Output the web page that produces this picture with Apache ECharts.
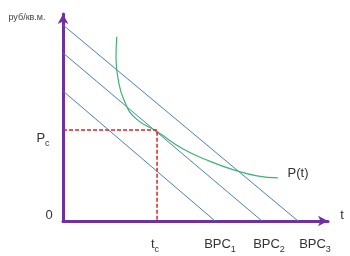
<!DOCTYPE html>
<html><head><meta charset="utf-8">
<script src="https://cdn.jsdelivr.net/npm/echarts@6/dist/echarts.min.js"></script>
<style>html,body{margin:0;padding:0;background:#fff}#c{width:350px;height:256px}</style>
</head><body><div id="c"></div>
<script>
// Budget lines (BPC): [P-intercept, t-intercept]
const bpcNames = ['BPC1', 'BPC2', 'BPC3'];
const bpcIntercepts = [[6.28, 5.74], [8.12, 7.51], [9.47, 8.87]];
// Price curve P(t)
const ptX = [2.03, 2.00, 2.08, 2.30, 2.72, 3.55, 4.50, 5.55, 6.57, 7.32, 8.11];
const ptY = [8.90, 7.90, 6.85, 5.85, 4.98, 4.32, 3.50, 2.88, 2.42, 2.18, 2.08];
// Equilibrium
const tc = 3.55;
const Pc = 4.40;
const axisMax = 10;

const purple = '#7030A0';
const blue = '#4A7EBB';
const green = '#3DB36F';
const font = 'Liberation Sans, Arial, sans-serif';

const series = [];
bpcIntercepts.forEach((b, i) => {
  series.push({
    name: bpcNames[i], type: 'line', symbol: 'none', silent: true,
    data: [[0, b[0]], [b[1], 0]],
    lineStyle: { color: blue, width: 1 }
  });
});
series.push({
  name: 'P(t)', type: 'line', symbol: 'none', smooth: 0.5, silent: true,
  data: ptX.map((x, i) => [x, ptY[i]]),
  lineStyle: { color: green, width: 1.2 }
});
series.push({
  name: 'eq', type: 'line', symbol: 'none', silent: true,
  data: [[0, Pc], [tc, Pc], [tc, 0]],
  lineStyle: { color: '#E02020', width: 1.5, type: [4, 2] }, z: 3
});

const sub = (a, b, size) => ({
  type: 'text',
  style: {
    text: '{a|' + a + '}{b|' + b + '}',
    rich: {
      a: { fontSize: size, fontFamily: font, fill: '#333', lineHeight: 16, verticalAlign: 'bottom' },
      b: { fontSize: Math.round(size * 0.72), fontFamily: font, fill: '#333', lineHeight: 16, verticalAlign: 'bottom', padding: [0, 0, -3, 0] }
    },
    align: 'center', verticalAlign: 'middle'
  }
});

const chart = echarts.init(document.getElementById('c'), null, { renderer: 'canvas' });
chart.setOption({
  animation: false,
  grid: { left: 63, right: 22, top: 14, bottom: 35 },
  xAxis: {
    type: 'value', min: 0, max: axisMax,
    axisLine: { show: true, lineStyle: { color: purple, width: 3 }, symbol: ['none', 'arrow'], symbolSize: [8, 10] },
    axisTick: { show: false }, axisLabel: { show: false }, splitLine: { show: false }
  },
  yAxis: {
    type: 'value', min: 0, max: axisMax,
    axisLine: { show: true, lineStyle: { color: purple, width: 3 }, symbol: ['none', 'arrow'], symbolSize: [8, 10] },
    axisTick: { show: false }, axisLabel: { show: false }, splitLine: { show: false }
  },
  series: series,
  graphic: [
    { type: 'text', x: 27, y: 18, style: { text: 'руб/кв.м.', fontSize: 9, fontFamily: font, fill: '#444', align: 'center', verticalAlign: 'middle' } },
    Object.assign(sub('P', 'c', 13), { x: 43, y: 137 }),
    { type: 'text', x: 49, y: 215, style: { text: '0', fontSize: 13, fontFamily: font, fill: '#333', align: 'center', verticalAlign: 'middle' } },
    Object.assign(sub('t', 'c', 13), { x: 155, y: 243 }),
    Object.assign(sub('BPC', '1', 13), { x: 220, y: 243 }),
    Object.assign(sub('BPC', '2', 13), { x: 269, y: 243 }),
    Object.assign(sub('BPC', '3', 13), { x: 315, y: 243 }),
    { type: 'text', x: 298, y: 173, style: { text: 'P(t)', fontSize: 13, fontFamily: font, fill: '#333', align: 'center', verticalAlign: 'middle' } },
    { type: 'text', x: 342, y: 215, style: { text: 't', fontSize: 13, fontFamily: font, fill: '#333', align: 'center', verticalAlign: 'middle' } }
  ]
});
</script>
</body></html>
